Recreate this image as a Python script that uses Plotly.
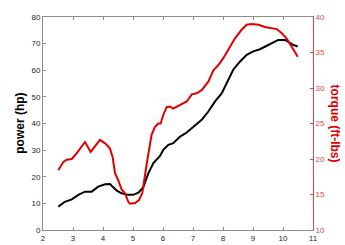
import plotly.graph_objects as go

# power (hp) vs x
power_x = [2.51, 2.73, 2.96, 3.18, 3.40, 3.62, 3.84, 4.07, 4.23, 4.34, 4.46, 4.62, 4.84, 5.01,
           5.18, 5.34, 5.51, 5.68, 5.90, 6.01, 6.18, 6.34, 6.57, 6.79, 7.01, 7.29, 7.51, 7.73,
           7.96, 8.12, 8.34, 8.57, 8.79, 9.01, 9.23, 9.46, 9.68, 9.84, 10.07, 10.23, 10.34, 10.49]
power_hp = [8.8, 10.6, 11.5, 13.2, 14.4, 14.4, 16.3, 17.2, 17.3, 16.0, 14.8, 13.8, 13.2, 13.2,
            14.0, 16.0, 21.3, 25.1, 27.8, 30.1, 32.0, 32.6, 35.1, 36.6, 38.8, 41.4, 44.5, 48.2,
            51.4, 55.1, 60.2, 63.3, 65.8, 67.1, 67.9, 69.2, 70.4, 71.4, 71.4, 70.4, 69.5, 68.9]

# torque (ft-lbs) vs x
torque_x = [2.51, 2.68, 2.79, 2.96, 3.12, 3.29, 3.40, 3.59, 3.73, 3.90, 4.07, 4.23, 4.32, 4.40,
            4.51, 4.62, 4.73, 4.84, 4.90, 5.07, 5.20, 5.31, 5.46, 5.62, 5.73, 5.84, 5.92, 6.01,
            6.12, 6.23, 6.34, 6.51, 6.79, 6.96, 7.12, 7.29, 7.51, 7.68, 7.84, 8.01, 8.18, 8.40,
            8.62, 8.79, 8.96, 9.18, 9.40, 9.57, 9.68, 9.79, 9.96, 10.12, 10.29, 10.49]
torque_ftlb = [18.4, 19.6, 19.9, 20.0, 20.8, 21.7, 22.4, 21.0, 21.7, 22.7, 22.2, 21.5, 20.3, 18.0,
               17.0, 15.7, 15.2, 14.0, 13.7, 13.8, 14.2, 15.2, 19.4, 23.4, 24.5, 25.0, 25.0, 26.2,
               27.3, 27.4, 27.1, 27.5, 28.1, 29.1, 29.25, 29.7, 30.9, 32.5, 33.2, 34.2, 35.35, 37.0,
               38.2, 38.9, 39.0, 38.9, 38.6, 38.5, 38.4, 38.3, 37.7, 37.0, 35.8, 34.4]

x_ticks = list(range(2, 12))
power_ticks = list(range(0, 90, 10))
torque_ticks = list(range(10, 45, 5))

AXC = "#262626"
RED = "#e00000"
RAX = "#d9474b"
FONT = "Liberation Sans, Arial, sans-serif"

fig = go.Figure()
fig.add_trace(go.Scatter(x=power_x, y=power_hp, mode="lines",
                         line=dict(color="black", width=2), yaxis="y"))
fig.add_trace(go.Scatter(x=torque_x, y=torque_ftlb, mode="lines",
                         line=dict(color=RED, width=2), yaxis="y2"))

fig.update_layout(
    width=345, height=245,
    margin=dict(l=43, r=32, t=17, b=15, autoexpand=False),
    paper_bgcolor="white", plot_bgcolor="white",
    showlegend=False,
    font=dict(family=FONT, size=8, color=AXC),
    xaxis=dict(range=[2, 11], tickvals=x_ticks, showgrid=False, zeroline=False,
               showline=True, linecolor="#8c8c8c", linewidth=1, mirror="ticks",
               ticks="inside", ticklen=3, tickcolor="#8c8c8c", automargin=False,
               tickfont=dict(size=8, color=AXC)),
    yaxis=dict(range=[0, 80], tickvals=power_ticks, showgrid=False, zeroline=False,
               showline=True, linecolor="#8c8c8c", linewidth=1, automargin=False,
               ticks="inside", ticklen=3, tickcolor="#8c8c8c",
               tickfont=dict(size=8, color=AXC)),
    yaxis2=dict(range=[10, 40], tickvals=torque_ticks, overlaying="y", side="right",
                showgrid=False, zeroline=False, automargin=False,
                showline=True, linecolor=RAX, linewidth=1,
                ticks="inside", ticklen=3, tickcolor=RAX,
                tickfont=dict(size=8, color=RAX)),
    annotations=[
        dict(text="<b>power (hp)</b>", xref="paper", yref="paper", x=-0.088, y=0.5,
             textangle=-90, showarrow=False, font=dict(size=12, color="black"),
             xanchor="center", yanchor="middle"),
        dict(text="<b>torque (ft-lbs)</b>", xref="paper", yref="paper", x=1.085, y=0.5,
             textangle=90, showarrow=False, font=dict(size=12, color=RED),
             xanchor="center", yanchor="middle"),
    ],
)

fig.write_html("out.html")
